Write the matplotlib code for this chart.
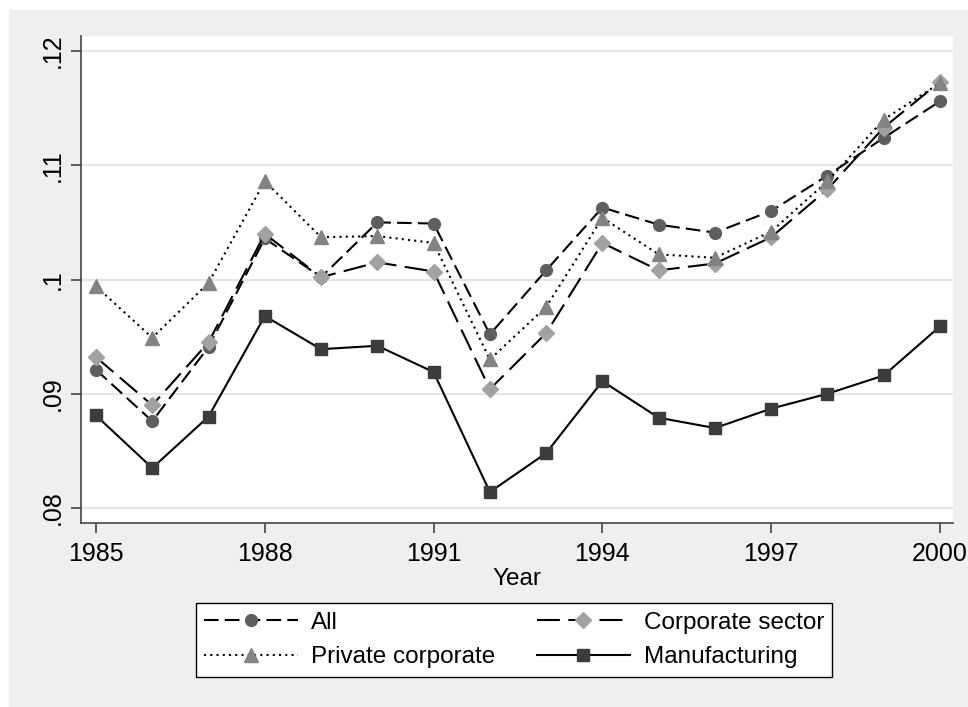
import matplotlib
matplotlib.use('Agg')
import matplotlib.pyplot as plt
from matplotlib.patches import Rectangle

plt.rcParams['font.family'] = ['Liberation Sans', 'DejaVu Sans']

years = list(range(1985, 2001))
all_firms = [0.0921, 0.0876, 0.0941, 0.1036, 0.1002, 0.1050, 0.1049, 0.0952,
             0.1008, 0.1063, 0.1048, 0.1041, 0.1060, 0.1091, 0.1124, 0.1156]
corp_sector = [0.0932, 0.0890, 0.0945, 0.1040, 0.1002, 0.1015, 0.1007, 0.0904,
               0.0953, 0.1032, 0.1008, 0.1014, 0.1037, 0.1079, 0.1133, 0.1173]
private_corp = [0.0994, 0.0949, 0.0997, 0.1086, 0.1037, 0.1038, 0.1032, 0.0930,
                0.0976, 0.1054, 0.1022, 0.1019, 0.1042, 0.1086, 0.1140, 0.1172]
manufacturing = [0.0881, 0.0835, 0.0880, 0.0968, 0.0939, 0.0942, 0.0919, 0.0814,
                 0.0848, 0.0911, 0.0879, 0.0870, 0.0887, 0.0900, 0.0916, 0.0959]
xticks = [1985, 1988, 1991, 1994, 1997, 2000]
yticks = [0.08, 0.09, 0.10, 0.11, 0.12]
ytick_labels = ['.08', '.09', '.1', '.11', '.12']

fig = plt.figure(figsize=(9.68, 7.07), dpi=100, facecolor='white')
# gray Stata-like background
fig.patches.append(Rectangle((9 / 968, 0), 1, 1 - 10 / 707, transform=fig.transFigure,
                             facecolor='#efefef', edgecolor='none', zorder=-10))

ax = fig.add_axes([81 / 968, 1 - 523 / 707, (953 - 81) / 968, (523 - 36) / 707])
ax.set_facecolor('white')
ax.set_zorder(1)

h1, = ax.plot(years, all_firms, color='black', lw=1.5, dashes=(7, 3),
              marker='o', ms=8.5, mfc='#5e5e5e', mec='#5e5e5e', label='All')
h2, = ax.plot(years, corp_sector, color='black', lw=1.5, dashes=(11, 4),
              marker='D', ms=8.5, mfc='#a2a2a2', mec='#a2a2a2', label='Corporate sector')
h3, = ax.plot(years, private_corp, color='black', lw=1.5, dashes=(1, 2),
              marker='^', ms=10, mfc='#838383', mec='#838383', label='Private corporate')
h4, = ax.plot(years, manufacturing, color='black', lw=1.5,
              marker='s', ms=9, mfc='#3c3c3c', mec='#3c3c3c', label='Manufacturing')

ax.set_xlim(1985 - 15 / 56.27, 2000 + 13 / 56.27)
ax.set_ylim(0.08 - 15 / 11425, 0.12 + 15 / 11425)
ax.set_xticks(xticks)
ax.set_yticks(yticks)
ax.set_yticklabels(ytick_labels, rotation=90, va='center')
ax.tick_params(axis='both', labelsize=18, length=7, width=1.2, color='#444444', pad=5)
ax.tick_params(axis='x', pad=7)
ax.grid(axis='y', color='#e6e6e6', lw=1.5)
ax.set_axisbelow(True)
for s in ['top', 'right']:
    ax.spines[s].set_visible(False)
for s in ['left', 'bottom']:
    ax.spines[s].set_color('#444444')
    ax.spines[s].set_linewidth(1.2)
ax.set_xlabel('Year', fontsize=17.5, labelpad=1)

leg = fig.legend(handles=[h1, h3, h2, h4], ncol=2, fontsize=17.5,
                 loc='center', bbox_to_anchor=(514 / 968, 1 - 640 / 707),
                 frameon=True, fancybox=False, edgecolor='black', framealpha=1,
                 handlelength=3.85, columnspacing=1.7, labelspacing=0.5,
                 borderpad=0.35, handletextpad=0.55)
leg.get_frame().set_linewidth(1.0)

fig.savefig('out.png', dpi=100, facecolor=fig.get_facecolor())
